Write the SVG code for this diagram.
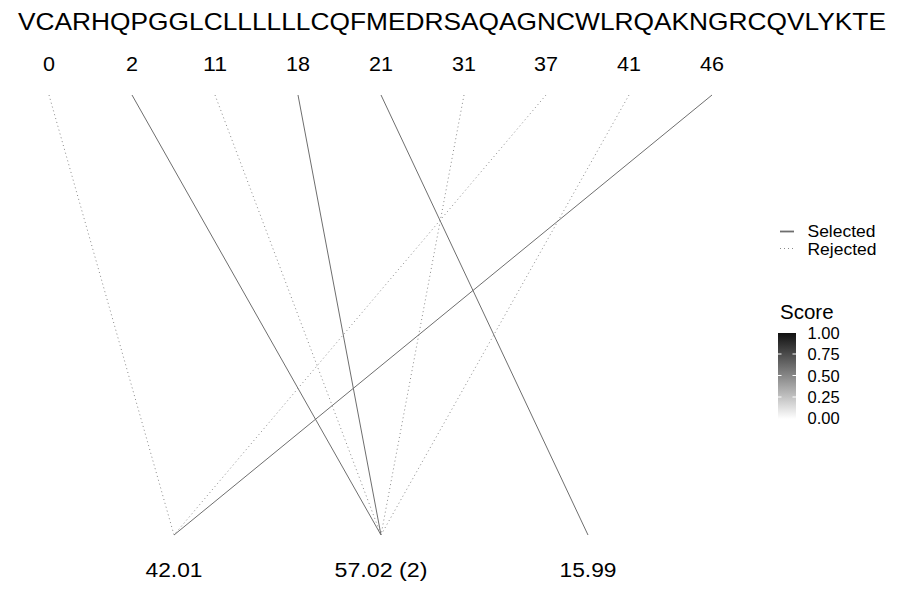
<svg xmlns="http://www.w3.org/2000/svg" width="900" height="600" viewBox="0 0 900 600">
<style>
text{font-family:"Liberation Sans",Arial,sans-serif;fill:#000}
.sel{stroke:#6e6e6e;stroke-width:1;fill:none}
.rej{stroke:#8a8a8a;stroke-width:1;stroke-dasharray:1 3;fill:none}
.pos{font-size:19.5px;text-anchor:middle}
.lab{font-size:19.5px;text-anchor:middle}
.leg{font-size:16.5px}
.tk{font-size:16.5px}
</style>
<defs>
<linearGradient id="g" x1="0" y1="1" x2="0" y2="0">
<stop offset="0" stop-color="#ffffff"/>
<stop offset="1" stop-color="#111111"/>
</linearGradient>
</defs>
<rect width="900" height="600" fill="#fff"/>
<g id="sequence"><text x="18" y="29.5" font-size="23.7" textLength="868" lengthAdjust="spacingAndGlyphs">VCARHQPGGLCLLLLLLCQFMEDRSAQAGNCWLRQAKNGRCQVLYKTE</text></g>
<g id="positions">
<text class="pos" x="49" y="71" textLength="12" lengthAdjust="spacingAndGlyphs">0</text>
<text class="pos" x="132" y="71" textLength="12" lengthAdjust="spacingAndGlyphs">2</text>
<text class="pos" x="215" y="71" textLength="24" lengthAdjust="spacingAndGlyphs">11</text>
<text class="pos" x="298" y="71" textLength="24" lengthAdjust="spacingAndGlyphs">18</text>
<text class="pos" x="381" y="71" textLength="24" lengthAdjust="spacingAndGlyphs">21</text>
<text class="pos" x="464" y="71" textLength="24" lengthAdjust="spacingAndGlyphs">31</text>
<text class="pos" x="546" y="71" textLength="24" lengthAdjust="spacingAndGlyphs">37</text>
<text class="pos" x="629" y="71" textLength="24" lengthAdjust="spacingAndGlyphs">41</text>
<text class="pos" x="712" y="71" textLength="24" lengthAdjust="spacingAndGlyphs">46</text>
</g>
<g id="connectors">
<line class="rej" x1="49" y1="95" x2="174" y2="535"/>
<line class="sel" x1="132" y1="95" x2="381" y2="535"/>
<line class="rej" x1="215" y1="95" x2="381" y2="535"/>
<line class="sel" x1="298" y1="95" x2="381" y2="535"/>
<line class="sel" x1="381" y1="95" x2="588" y2="535"/>
<line class="rej" x1="464" y1="95" x2="381" y2="535"/>
<line class="rej" x1="546" y1="95" x2="174" y2="535"/>
<line class="rej" x1="629" y1="95" x2="381" y2="535"/>
<line class="sel" x1="712" y1="95" x2="174" y2="535"/>
</g>
<g id="masses">
<text class="lab" x="174" y="577" textLength="57" lengthAdjust="spacingAndGlyphs">42.01</text>
<text class="lab" x="381" y="577" textLength="93" lengthAdjust="spacingAndGlyphs">57.02 (2)</text>
<text class="lab" x="588" y="577" textLength="57" lengthAdjust="spacingAndGlyphs">15.99</text>
</g>
<g id="legend-lines">
<line x1="780" y1="231.5" x2="794" y2="231.5" stroke="#6e6e6e" stroke-width="1.8"/>
<line class="rej" x1="780" y1="248.5" x2="794" y2="248.5"/>
<text class="leg" x="807.5" y="237" textLength="68" lengthAdjust="spacingAndGlyphs">Selected</text>
<text class="leg" x="807.5" y="254.5" textLength="69" lengthAdjust="spacingAndGlyphs">Rejected</text>
</g>
<g id="legend-score">
<text x="780" y="319" font-size="20.5">Score</text>
<rect x="778" y="333" width="18" height="86" fill="url(#g)"/>
<g stroke="#fff" stroke-width="1">
<line x1="778" y1="354" x2="781.5" y2="354"/><line x1="792.5" y1="354" x2="796" y2="354"/>
<line x1="778" y1="375.5" x2="781.5" y2="375.5"/><line x1="792.5" y1="375.5" x2="796" y2="375.5"/>
<line x1="778" y1="397" x2="781.5" y2="397"/><line x1="792.5" y1="397" x2="796" y2="397"/>
</g>
<text class="tk" x="807.5" y="339.3">1.00</text>
<text class="tk" x="807.5" y="360.3">0.75</text>
<text class="tk" x="807.5" y="381.5">0.50</text>
<text class="tk" x="807.5" y="402.5">0.25</text>
<text class="tk" x="807.5" y="423.5">0.00</text>
</g>
</svg>
